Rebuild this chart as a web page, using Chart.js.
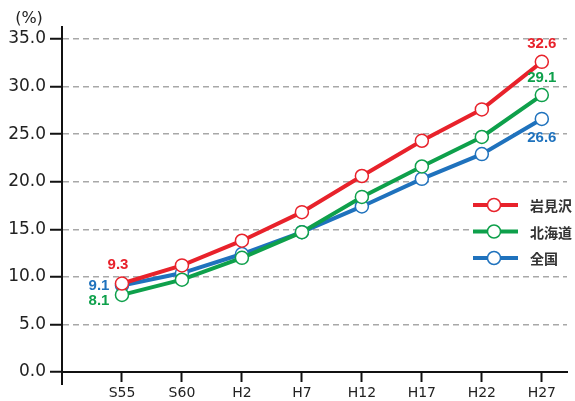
<!DOCTYPE html>
<html>
<head>
<meta charset="utf-8">
<script src="https://cdn.jsdelivr.net/npm/chart.js@4.4.1/dist/chart.umd.min.js"></script>
<style>
	html, body { margin: 0; padding: 0; background: #fff; }
	#wrap { width: 575px; height: 401px; position: relative; }
</style>
</head>
<body>
<div id="wrap"><canvas id="mycanvas"></canvas></div>
<script>
// data
var categories = ['S55', 'S60', 'H2', 'H7', 'H12', 'H17', 'H22', 'H27'];
var seriesNames = ['岩見沢', '北海道', '全国'];
var iwamizawa = [9.3, 11.2, 13.8, 16.8, 20.6, 24.3, 27.6, 32.6];
var hokkaido = [8.1, 9.7, 12.0, 14.7, 18.4, 21.6, 24.7, 29.1];
var zenkoku = [9.1, 10.4, 12.4, 14.7, 17.4, 20.3, 22.9, 26.6];
var yTicks = [0, 5, 10, 15, 20, 25, 30, 35];
var unitLabel = '(%)';

var colors = ['#e8222b', '#0ea04b', '#1f72bd'];

// which points get a value label: [dataset, point, dx, dy]
var valueLabels = [
	[0, 0, -4, -19], [2, 0, -23, 0], [1, 0, -23, 6],
	[0, 7, 0, -18], [1, 7, 0, -17], [2, 7, 0, 19]
];

function toPoints(arr) {
	return arr.map(function(v, i) { return { x: i + 1, y: v }; });
}

function makeSet(name, arr, color) {
	return {
		label: name,
		data: toPoints(arr),
		borderColor: color,
		backgroundColor: color,
		borderWidth: 4,
		pointRadius: 6.5,
		pointHoverRadius: 6.5,
		pointBackgroundColor: '#fff',
		pointBorderColor: color,
		pointBorderWidth: 1.5,
		tension: 0
	};
}

var extras = {
	id: 'extras',
	afterDatasetsDraw: function(chart) {
		var ctx = chart.ctx;
		var area = chart.chartArea;
		var ys = chart.scales.y;

		// y axis runs a bit below zero
		ctx.save();
		ctx.strokeStyle = '#111';
		ctx.lineWidth = 2;
		ctx.beginPath();
		ctx.moveTo(ys.right, area.bottom);
		ctx.lineTo(ys.right, area.bottom + 13);
		ctx.stroke();

		// unit
		ctx.fillStyle = '#222';
		ctx.font = '16px "DejaVu Sans"';
		ctx.textAlign = 'center';
		ctx.textBaseline = 'middle';
		ctx.fillText(unitLabel, 29, 19);

		// value labels
		ctx.font = 'bold 15px "Liberation Sans"';
		valueLabels.forEach(function(l) {
			var meta = chart.getDatasetMeta(l[0]);
			var pt = meta.data[l[1]];
			var v = chart.data.datasets[l[0]].data[l[1]].y;
			ctx.fillStyle = colors[l[0]];
			ctx.fillText(v.toFixed(1), pt.x + l[2], pt.y + l[3]);
		});

		// legend box
		var lx = 473, top = 205, gap = 26.5;
		ctx.fillStyle = '#fff';
		ctx.fillRect(lx - 3, top - 13, 102, gap * 2 + 26);
		seriesNames.forEach(function(name, i) {
			var y = top + i * gap;
			ctx.strokeStyle = colors[i];
			ctx.lineWidth = 4;
			ctx.beginPath();
			ctx.moveTo(lx, y);
			ctx.lineTo(lx + 45, y);
			ctx.stroke();
			ctx.beginPath();
			ctx.arc(lx + 21, y, 6.5, 0, Math.PI * 2);
			ctx.fillStyle = '#fff';
			ctx.fill();
			ctx.lineWidth = 1.5;
			ctx.stroke();
			ctx.fillStyle = '#333';
			ctx.font = 'bold 14px "Noto Sans CJK JP"';
			ctx.textAlign = 'left';
			ctx.fillText(name, 530, y + 1);
		});
		ctx.restore();
	}
};

var ctx = document.getElementById('mycanvas');

var lineGraph = new Chart(ctx, {
	type: 'line',
	data: {
		datasets: [
			makeSet(seriesNames[0], iwamizawa, colors[0]),
			makeSet(seriesNames[1], hokkaido, colors[1]),
			makeSet(seriesNames[2], zenkoku, colors[2])
		]
	},
	options: {
		responsive: true,
		maintainAspectRatio: false,
		animation: false,
		layout: { padding: { top: 27, right: 8, left: 0, bottom: 0 } },
		plugins: {
			legend: { display: false },
			tooltip: { enabled: false }
		},
		scales: {
			x: {
				type: 'linear',
				min: 0,
				max: 8.42,
				afterBuildTicks: function(scale) {
					scale.ticks = categories.map(function(c, i) { return { value: i + 1 }; });
				},
				afterFit: function(scale) { scale.height = 29; },
				ticks: {
					autoSkip: false,
					maxRotation: 0,
					padding: 3,
					color: '#222',
					font: { family: 'DejaVu Sans', size: 14 },
					callback: function(value) { return categories[value - 1]; }
				},
				grid: {
					drawOnChartArea: false,
					tickLength: 10,
					tickColor: '#111',
					tickWidth: 2
				},
				border: { color: '#111', width: 2 }
			},
			y: {
				min: 0,
				max: 36.26,
				afterBuildTicks: function(scale) {
					scale.ticks = yTicks.map(function(v) { return { value: v }; });
				},
				afterFit: function(scale) { scale.width = 62; },
				ticks: {
					padding: 4,
					color: '#222',
					font: { family: 'DejaVu Sans', size: 17 },
					callback: function(value) { return value.toFixed(1); }
				},
				grid: {
					color: function(c) {
						return (c.tick && c.tick.value === 0) ? 'rgba(0,0,0,0)' : '#a8a8a8';
					},
					lineWidth: 1.5,
					tickLength: 12,
					tickColor: '#111',
					tickWidth: 2,
					tickBorderDash: []
				},
				border: { color: '#111', width: 2, dash: [6, 4] }
			}
		}
	},
	plugins: [extras]
});
</script>
</body>
</html>
